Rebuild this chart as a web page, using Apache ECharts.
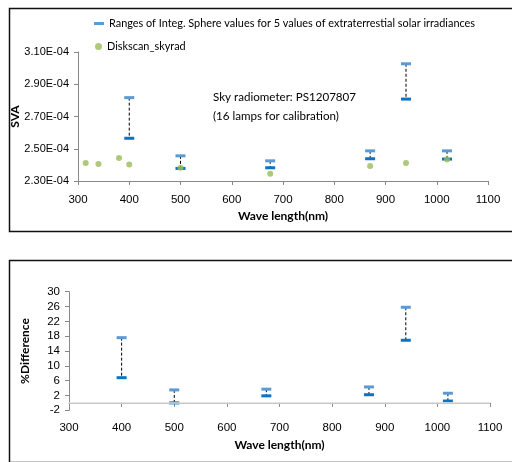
<!DOCTYPE html>
<html>
<head>
<meta charset="utf-8">
<script src="https://cdn.jsdelivr.net/npm/echarts@6/dist/echarts.min.js"></script>
<style>
html,body{margin:0;padding:0;background:#fff;}
#chart{width:512px;height:462px;}
</style>
</head>
<body>
<div id="chart"></div>
<script>
// ---- data ----
const wavelengths = [400, 500, 675, 870, 940, 1020];
const svaHigh = [2.817e-4, 2.456e-4, 2.425e-4, 2.487e-4, 3.027e-4, 2.487e-4];
const svaLow  = [2.565e-4, 2.378e-4, 2.382e-4, 2.438e-4, 2.808e-4, 2.436e-4];
const diskWavelengths = [315, 340, 380, 400, 500, 675, 870, 940, 1020];
const diskSva = [2.411e-4, 2.405e-4, 2.442e-4, 2.403e-4, 2.382e-4, 2.345e-4, 2.393e-4, 2.411e-4, 2.434e-4];
const pctHigh = [17.6, 3.5, 3.7, 4.3, 25.8, 2.6];
const pctLow  = [6.8, 0.0, 1.9, 2.2, 16.9, 0.5];
const rangeName = 'Ranges of Integ. Sphere values for 5 values of extraterrestial solar irradiances';
const diskName = 'Diskscan_skyrad';
const noteLines = ['Sky radiometer: PS1207807', '(16 lamps for calibration)'];

const narrow = '"Liberation Sans Narrow", "Arial Narrow", "Liberation Sans", sans-serif';
const human = 'Lato, "Open Sans", sans-serif';

function sciFmt(v) {
  if (v === 0) return '0.00E+00';
  let e = Math.floor(Math.log10(Math.abs(v)) + 1e-9);
  let m = v / Math.pow(10, e);
  if (Math.abs(m) >= 9.995) { m /= 10; e += 1; }
  const sign = e < 0 ? '-' : '+';
  const ae = Math.abs(e);
  return m.toFixed(2) + 'E' + sign + (ae < 10 ? '0' + ae : ae);
}
function plainFmt(v) { return String(Math.round(v)); }

function rangeItem(params, api) {
  const x = api.value(0);
  const pHi = api.coord([x, api.value(1)]);
  const pLo = api.coord([x, api.value(2)]);
  return {
    type: 'group',
    children: [
      {type: 'line', shape: {x1: pHi[0], y1: pHi[1], x2: pLo[0], y2: pLo[1]},
       style: {stroke: '#000', lineWidth: 1, lineDash: [3, 2]}},
      {type: 'rect', shape: {x: pHi[0] - 5, y: pHi[1] - 1.5, width: 10, height: 3},
       style: {fill: '#5B9BD5'}},
      {type: 'rect', shape: {x: pLo[0] - 5, y: pLo[1] - 1.5, width: 10, height: 3},
       style: {fill: '#0A74C4'}}
    ]
  };
}

const axisLineStyle = {color: '#888', width: 1};
const xCommon = {
  type: 'value', min: 300, max: 1100, interval: 100,
  axisLine: {show: true, lineStyle: axisLineStyle},
  axisTick: {show: true, inside: false, length: 4, lineStyle: axisLineStyle},
  splitLine: {show: false},
  axisLabel: {color: '#000', fontFamily: narrow, fontSize: 11.5, formatter: plainFmt},
  name: 'Wave length(nm)', nameLocation: 'middle', nameGap: 28, nameMoveOverlap: false,
  nameTextStyle: {color: '#000', fontFamily: human, fontWeight: 'bold', fontSize: 12}
};

const chart = echarts.init(document.getElementById('chart'), null, {renderer: 'canvas'});
chart.setOption({
  animation: false,
  backgroundColor: '#fff',
  graphic: [
    {type: 'rect', left: 7, top: 6, shape: {width: 520, height: 223}, z: -1,
     style: {fill: 'none', stroke: '#111', lineWidth: 1.5}},
    {type: 'rect', left: 7, top: 258, shape: {width: 520, height: 202}, z: -1,
     style: {fill: 'none', stroke: '#111', lineWidth: 1.5}},
    {type: 'text', left: 213, top: 88,
     style: {text: noteLines.join('\n'), fontFamily: human, fontSize: 11.6, lineHeight: 19, fill: '#000'}}
  ],
  legend: [
    {data: [{name: rangeName, icon: 'rect', itemStyle: {color: '#5B9BD5'}}],
     left: 94, top: 18, itemWidth: 10, itemHeight: 3, padding: 0,
     textStyle: {fontFamily: human, fontSize: 10.9, color: '#000'}},
    {data: [{name: diskName, icon: 'circle'}],
     left: 95, top: 41, itemWidth: 7, itemHeight: 7, padding: 0,
     textStyle: {fontFamily: human, fontSize: 10.9, color: '#000'}}
  ],
  grid: [
    {left: 78, right: 24, top: 52, bottom: 281, outerBoundsMode: 'none'},
    {left: 69, right: 22, top: 291.7, bottom: 51.7, outerBoundsMode: 'none'}
  ],
  xAxis: [
    Object.assign({}, xCommon, {gridIndex: 0, axisLabel: Object.assign({}, xCommon.axisLabel, {margin: 13}), nameGap: 29}),
    Object.assign({}, xCommon, {gridIndex: 1, axisLabel: Object.assign({}, xCommon.axisLabel, {margin: 12}), nameGap: 29})
  ],
  yAxis: [
    {gridIndex: 0, type: 'value', min: 2.3e-4, max: 3.1e-4, interval: 0.2e-4,
     axisLine: {show: true, lineStyle: axisLineStyle},
     axisTick: {show: true, length: 4, lineStyle: axisLineStyle},
     splitLine: {show: false},
     axisLabel: {color: '#000', fontFamily: narrow, fontSize: 11, margin: 9, formatter: sciFmt},
     name: 'SVA', nameLocation: 'middle', nameGap: 57, nameRotate: 90, nameMoveOverlap: false,
     nameTextStyle: {color: '#000', fontFamily: human, fontWeight: 'bold', fontSize: 12}},
    {gridIndex: 1, type: 'value', min: -2, max: 30, interval: 4,
     axisLine: {show: true, lineStyle: axisLineStyle},
     axisTick: {show: true, length: 4, lineStyle: axisLineStyle},
     splitLine: {show: false},
     axisLabel: {color: '#000', fontFamily: narrow, fontSize: 11.5, margin: 9},
     name: '%Difference', nameLocation: 'middle', nameGap: 38, nameRotate: 90, nameMoveOverlap: false,
     nameTextStyle: {color: '#000', fontFamily: human, fontWeight: 'bold', fontSize: 12}}
  ],
  series: [
    {name: rangeName, type: 'custom', xAxisIndex: 0, yAxisIndex: 0,
     itemStyle: {color: '#5B9BD5'},
     renderItem: rangeItem,
     data: wavelengths.map((w, i) => [w, svaHigh[i], svaLow[i]])},
    {name: diskName, type: 'scatter', xAxisIndex: 0, yAxisIndex: 0,
     symbol: 'circle', symbolSize: 6,
     itemStyle: {color: '#9BBB59'},
     data: diskWavelengths.map((w, i) => [w, diskSva[i]])},
    {name: 'pct', type: 'custom', xAxisIndex: 1, yAxisIndex: 1,
     itemStyle: {color: '#5B9BD5'},
     renderItem: rangeItem,
     data: wavelengths.map((w, i) => [w, pctHigh[i], pctLow[i]]),
     markLine: {silent: true, symbol: 'none', label: {show: false},
       lineStyle: {color: '#DDDDDD', width: 1.5, type: 'solid'},
       data: [{yAxis: 0}]}}
  ]
});
</script>
</body>
</html>
